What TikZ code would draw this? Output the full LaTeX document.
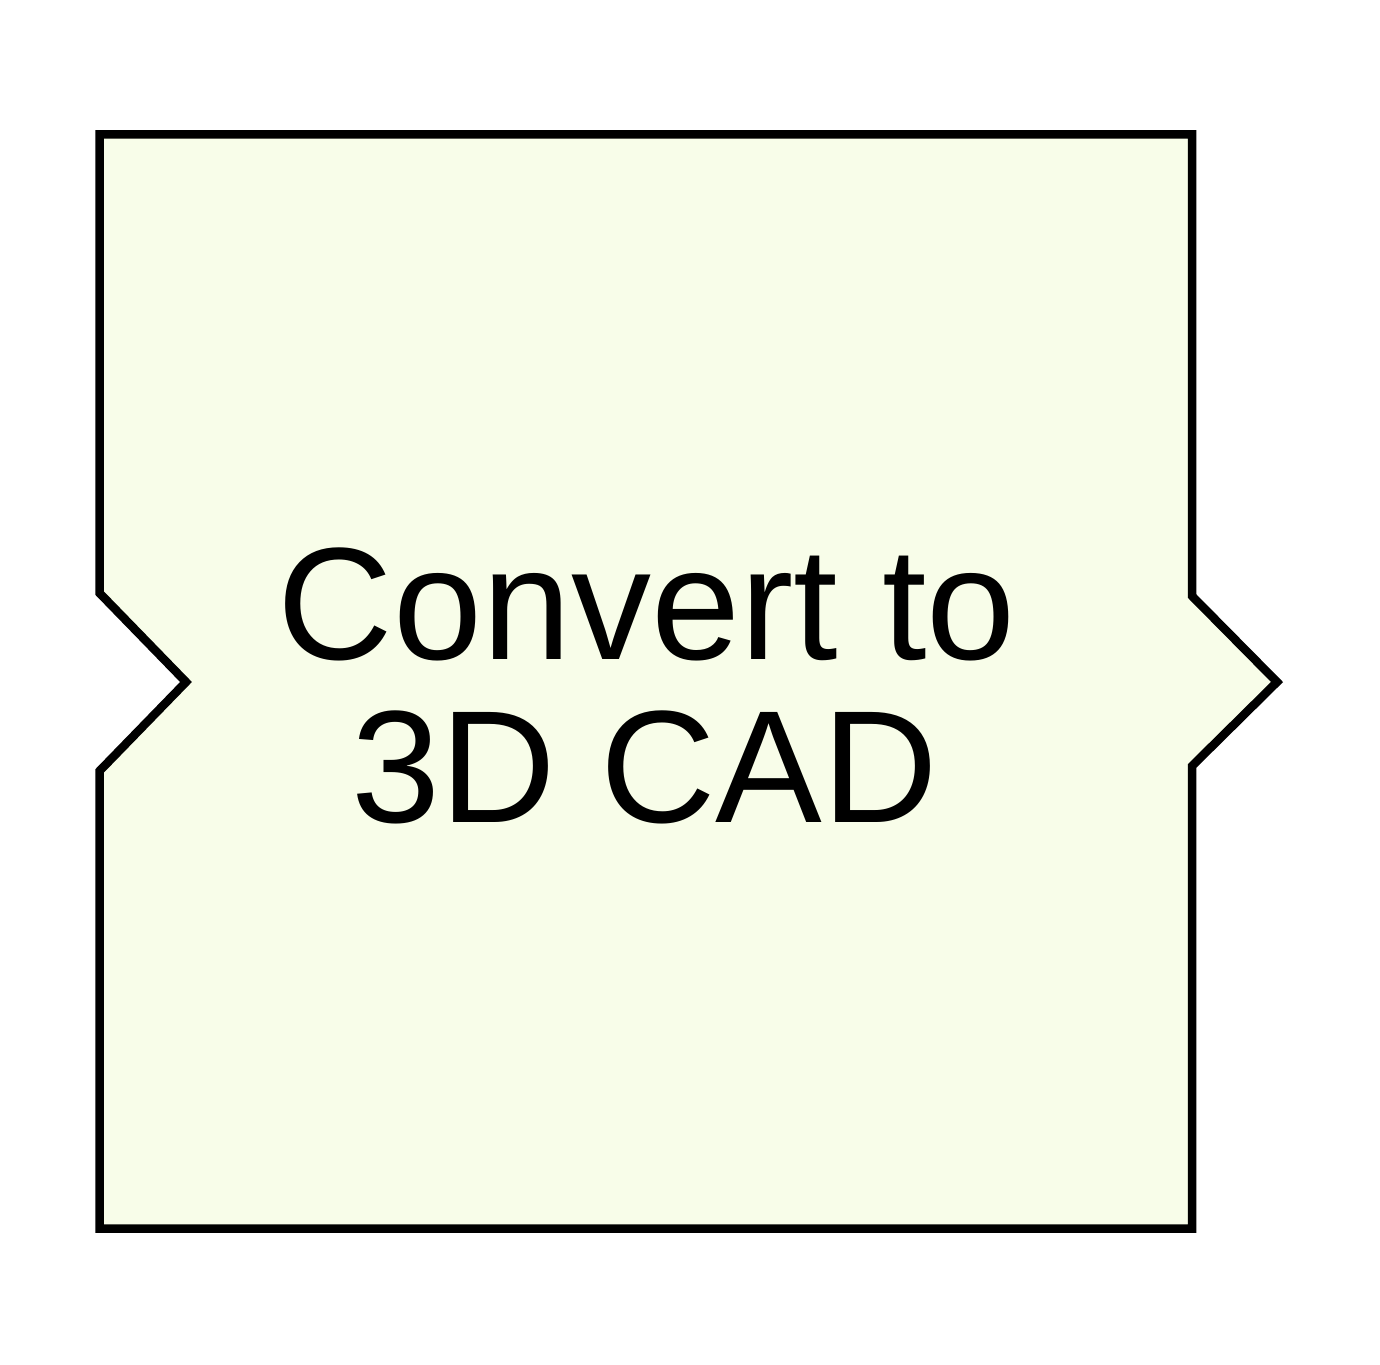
\documentclass[tikz,border=0pt]{standalone}
\usepackage{fontspec}
\setmainfont{Liberation Sans}
\definecolor{boxfill}{HTML}{F8FDE9}
\tikzset{
  stepshape/.style={draw=black, fill=boxfill, line width=8.5pt, line join=miter},
  steplabel/.style={font=\fontsize{160}{164}\selectfont, inner sep=0pt, anchor=base, text=black}
}
\begin{document}
\begin{tikzpicture}[x=1pt,y=-1pt]
\useasboundingbox (0,0) rectangle (1380,1364);
\draw[stepshape] (99.5,134.5) -- (1192,134.5) -- (1192,596) -- (1277,682) -- (1192,766)
  -- (1192,1228.5) -- (99.5,1228.5) -- (99.5,771) -- (186,682) -- (99.5,593) -- cycle;
\node[steplabel] (l1) at (647,659) {Convert to};
\node[steplabel] (l2) at (645,822) {3D CAD};
\end{tikzpicture}
\end{document}
